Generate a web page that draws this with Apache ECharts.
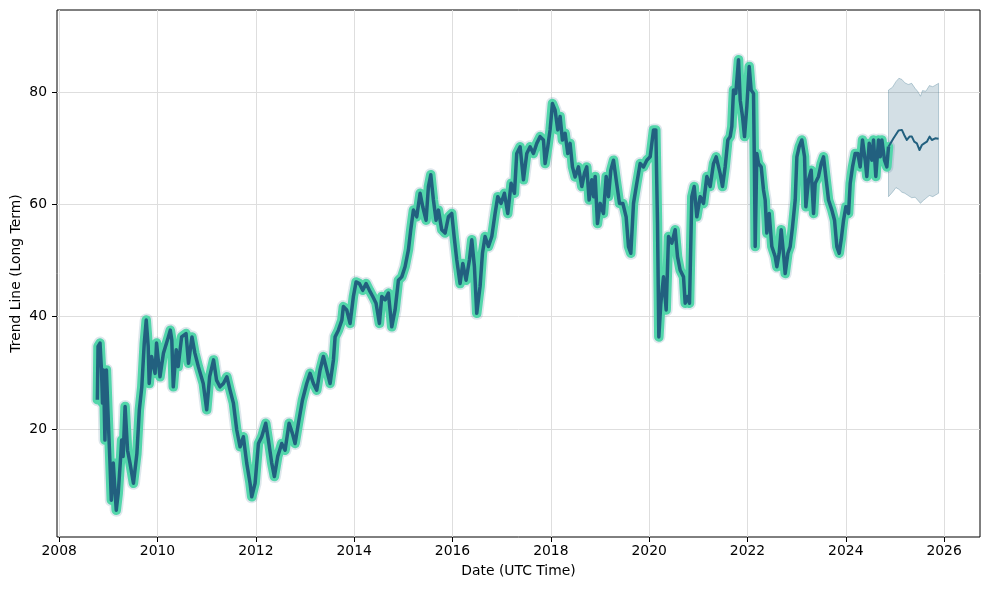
<!DOCTYPE html>
<html>
<head>
<meta charset="utf-8">
<script src="https://cdn.jsdelivr.net/npm/echarts@6/dist/echarts.min.js"></script>
<style>
html,body{margin:0;padding:0;background:#fff;}
#chart{width:989px;height:590px;}
</style>
</head>
<body>
<div id="chart"></div>
<script>
// ---- data (decimal years) ----
const histDates = [
2008.776,2008.79,2008.83,2008.86,2008.88,2008.90,2008.93,2008.96,2008.99,2009.03,2009.06,2009.10,2009.16,2009.20,2009.25,2009.27,2009.30,2009.34,2009.39,2009.44,2009.51,2009.58,2009.63,2009.68,2009.73,2009.77,2009.81,2009.83,2009.88,2009.95,2009.98,2010.05,2010.12,2010.22,2010.26,2010.29,2010.32,2010.38,2010.42,2010.49,2010.58,2010.63,2010.70,2010.76,2010.83,2010.93,2011.00,2011.06,2011.14,
2011.20,2011.27,2011.34,2011.41,2011.475,2011.543,2011.611,2011.679,2011.746,2011.814,2011.882,2011.916,2011.984,2012.052,2012.119,2012.201,2012.255,2012.323,2012.377,2012.445,2012.526,2012.594,2012.676,2012.743,2012.798,2012.866,2012.947,2013.035,2013.103,2013.171,2013.238,2013.306,2013.374,2013.442,2013.510,2013.578,2013.612,2013.679,
2013.75,2013.78,2013.849,2013.916,2013.984,2014.039,2014.106,2014.174,2014.242,2014.310,2014.378,2014.445,2014.513,2014.561,2014.629,2014.696,2014.764,2014.832,2014.900,2014.968,2015.035,2015.103,2015.151,2015.205,2015.273,2015.341,2015.395,2015.463,2015.510,2015.558,2015.612,2015.666,2015.714,2015.781,2015.849,2015.917,2015.985,2016.033,2016.087,2016.154,2016.209,2016.276,2016.344,2016.392,
2016.446,2016.493,2016.527,2016.561,2016.609,2016.663,2016.731,2016.799,2016.866,2016.921,2016.988,2017.056,2017.124,2017.192,2017.260,2017.307,2017.375,2017.443,2017.511,2017.578,2017.646,2017.714,2017.782,2017.850,2017.884,2017.938,2017.985,2018.033,2018.087,2018.141,2018.189,2018.236,2018.291,2018.345,2018.392,2018.440,2018.494,2018.562,2018.630,2018.684,2018.731,2018.779,
2018.833,2018.87,2018.902,2018.949,2019.003,2019.071,2019.126,2019.173,2019.220,2019.275,2019.329,2019.397,2019.465,2019.532,2019.580,2019.627,2019.682,2019.749,2019.817,2019.885,2019.953,2020.021,2020.089,2020.136,2020.170,2020.197,2020.238,2020.292,2020.346,2020.394,2020.462,2020.529,2020.577,2020.631,2020.699,2020.733,2020.780,2020.821,2020.868,2020.916,2020.970,2021.038,2021.106,2021.174,2021.241,2021.309,
2021.364,2021.397,2021.445,2021.492,2021.546,2021.601,2021.648,2021.682,2021.716,2021.763,2021.818,2021.852,2021.899,2021.940,2021.987,2022.035,2022.075,2022.123,2022.143,2022.157,2022.191,2022.225,2022.279,2022.326,2022.360,2022.394,2022.442,2022.496,2022.564,2022.598,2022.645,2022.686,2022.733,2022.767,2022.822,2022.869,2022.916,2022.971,2023.005,2023.052,2023.106,2023.161,2023.188,2023.242,2023.296,2023.344,2023.378,2023.445,2023.500,2023.547,2023.601,2023.649,2023.717,2023.771,2023.818,2023.866,2023.906,2023.954,2024.002,2024.056,2024.090,2024.137,2024.191,
2024.245,2024.293,2024.340,2024.394,2024.428,2024.476,2024.530,2024.564,2024.611,2024.666,2024.700,2024.734,2024.788,2024.835,2024.869
];
const histValues = [
25.2,34.7,35.3,30.5,24.6,30.5,18.0,30.5,23.4,14.5,7.3,13.9,5.5,8.5,15.0,18.0,15.1,24.0,16.2,13.9,10.3,15.6,23.4,27.5,35.3,39.4,34.7,28.1,32.9,29.9,35.3,29.3,33.5,36.4,37.6,35.9,27.5,34.1,31.1,36.4,37.0,31.7,36.4,33.5,31.1,28.1,23.4,29.3,32.3,
28.7,27.5,28.1,29.3,26.9,24.6,19.8,16.8,18.6,13.9,10.3,7.9,10.3,17.4,18.6,21.0,18.0,13.9,11.5,15.1,17.4,16.2,21.0,19.2,17.4,21.0,25.1,28.1,29.9,28.1,26.9,30.5,32.9,30.5,28.1,32.3,36.4,37.6,
39.4,41.8,41.2,38.8,43.6,46.2,45.9,44.7,45.9,44.7,43.6,42.4,38.8,43.6,43.0,44.2,38.2,41.2,46.5,47.1,48.9,51.9,55.5,59.0,57.8,62.0,59.6,57.2,63.2,65.3,60.8,57.2,59.0,55.5,54.9,57.8,58.4,54.3,50.1,45.9,49.5,46.5,50.1,53.7,
48.9,40.6,40.6,45.4,51.3,54.3,52.5,54.3,58.4,61.4,60.2,62.0,58.4,63.8,62.0,69.1,70.3,64.4,69.1,70.3,69.1,70.9,72.1,71.5,67.3,70.3,73.3,78.0,76.8,73.3,75.7,71.5,72.7,69.1,70.9,66.7,64.9,66.7,63.2,65.6,66.7,60.8,
64.4,61.4,65.0,56.6,60.2,58.4,65.0,61.4,66.1,67.9,64.4,60.2,60.2,57.8,52.5,51.3,60.2,63.8,67.3,66.7,67.9,68.5,73.3,73.3,56.6,36.4,42.4,47.1,41.2,54.3,53.1,55.5,50.7,48.3,47.1,42.4,43.6,42.4,61.4,63.2,57.8,61.4,60.2,65.0,63.2,67.3,
68.5,68.5,65.5,63.2,66.7,71.5,72.1,73.9,80.4,79.8,85.8,78.6,75.7,72.1,77.4,84.6,80.4,79.8,65.5,52.5,69.1,67.3,66.7,62.6,60.8,54.9,58.4,52.5,50.7,48.9,51.3,55.5,51.3,47.7,51.3,52.5,56.0,60.8,68.5,70.3,71.5,68.5,59.6,64.4,66.1,58.4,63.8,65.0,67.3,68.5,64.4,60.8,59.0,57.2,52.5,51.3,53.7,57.2,59.6,58.4,63.8,66.7,69.1,
69.1,66.7,71.5,67.9,65.0,70.9,67.9,71.5,65.0,71.5,68.5,71.5,67.9,66.7,70.3
];
const forecastDates = [2024.869,2024.971,2025.073,2025.141,2025.188,2025.242,2025.297,2025.344,2025.392,2025.446,2025.500,2025.548,2025.595,2025.649,2025.704,2025.751,2025.819,2025.887];
const forecastValues = [70.3,71.8,73.2,73.3,72.4,71.5,72.1,72.1,71.2,70.9,69.7,70.6,70.9,71.2,72.1,71.5,71.8,71.7];
const bandDates = [2024.869,2024.95,2025.02,2025.08,2025.14,2025.20,2025.27,2025.34,2025.41,2025.46,2025.52,2025.56,2025.63,2025.70,2025.77,2025.887];
const bandUpper = [80.4,80.9,81.9,82.5,82.3,81.7,81.4,81.6,80.7,80.2,79.3,80.3,80.2,81.2,81.0,81.6];
const bandLower = [61.4,62.2,63.0,62.7,62.2,62.0,61.6,61.2,61.3,60.8,60.2,60.6,61.1,61.6,61.4,62.0];
const xTicks = [2008,2010,2012,2014,2016,2018,2020,2022,2024,2026];
const yTicks = [20,40,60,80];

// ---- build ----
const hist = histDates.map((d,i)=>[d,histValues[i]]);
const fc = forecastDates.map((d,i)=>[d,forecastValues[i]]);

const FONT = 'DejaVu Sans';
const FS = 13.9;
const BLUE = '#22607f';
const TEAL = '#52d6aa';
const BAND = 'rgba(34,96,127,0.2)';

const chart = echarts.init(document.getElementById('chart'), null, {renderer:'canvas'});
chart.setOption({
  animation:false,
  backgroundColor:'#fff',
  grid:{left:57,right:9,top:10,bottom:53,show:true,borderColor:'#000',borderWidth:1,backgroundColor:'transparent',containLabel:false,outerBoundsMode:'none'},
  xAxis:{
    type:'value', min:2007.955, max:2026.73,
    name:'Date (UTC Time)', nameLocation:'middle', nameGap:27, nameMoveOverlap:false,
    nameTextStyle:{fontFamily:FONT,fontSize:FS,color:'#000'},
    axisLine:{show:false},
    axisTick:{show:true,length:5,lineStyle:{color:'#000'},customValues:xTicks},
    axisLabel:{customValues:xTicks,fontFamily:FONT,fontSize:FS,color:'#000',margin:7,formatter:v=>String(v)},
    splitLine:{show:true,lineStyle:{color:'#dedede',width:1}}
  },
  yAxis:{
    type:'value', min:0.73, max:94.67,
    name:'Trend Line (Long Term)', nameLocation:'middle', nameGap:34, nameMoveOverlap:false,
    nameTextStyle:{fontFamily:FONT,fontSize:FS,color:'#000'},
    axisLine:{show:false},
    axisTick:{show:true,length:5,lineStyle:{color:'#000'},customValues:yTicks},
    axisLabel:{customValues:yTicks,fontFamily:FONT,fontSize:FS,color:'#000',margin:10},
    splitLine:{show:true,lineStyle:{color:'#dedede',width:1}}
  },
  series:[
    {type:'line',data:hist,symbol:'none',z:1,lineStyle:{color:'rgba(34,96,127,0.15)',width:13,join:'round',cap:'round'}},
    {type:'line',data:hist,symbol:'none',z:2,lineStyle:{color:TEAL,width:9.5,join:'round',cap:'round'}},
    {type:'line',data:hist,symbol:'none',z:3,lineStyle:{color:BLUE,width:3.5,join:'round'}},
    {type:'custom',z:1,silent:true,
      data:[[bandDates[0],bandLower[0]]],
      encode:{x:0,y:1},
      renderItem:function(params,api){
        const up = bandDates.map((d,i)=>api.coord([d,bandUpper[i]]));
        const lo = bandDates.map((d,i)=>api.coord([d,bandLower[i]])).reverse();
        return {type:'polygon',shape:{points:up.concat(lo)},
          style:{fill:BAND,stroke:'rgba(34,96,127,0.28)',lineWidth:1}};
      }
    },
    {type:'line',data:fc,symbol:'none',z:4,lineStyle:{color:BLUE,width:2,join:'round'}}
  ]
});
</script>
</body>
</html>
